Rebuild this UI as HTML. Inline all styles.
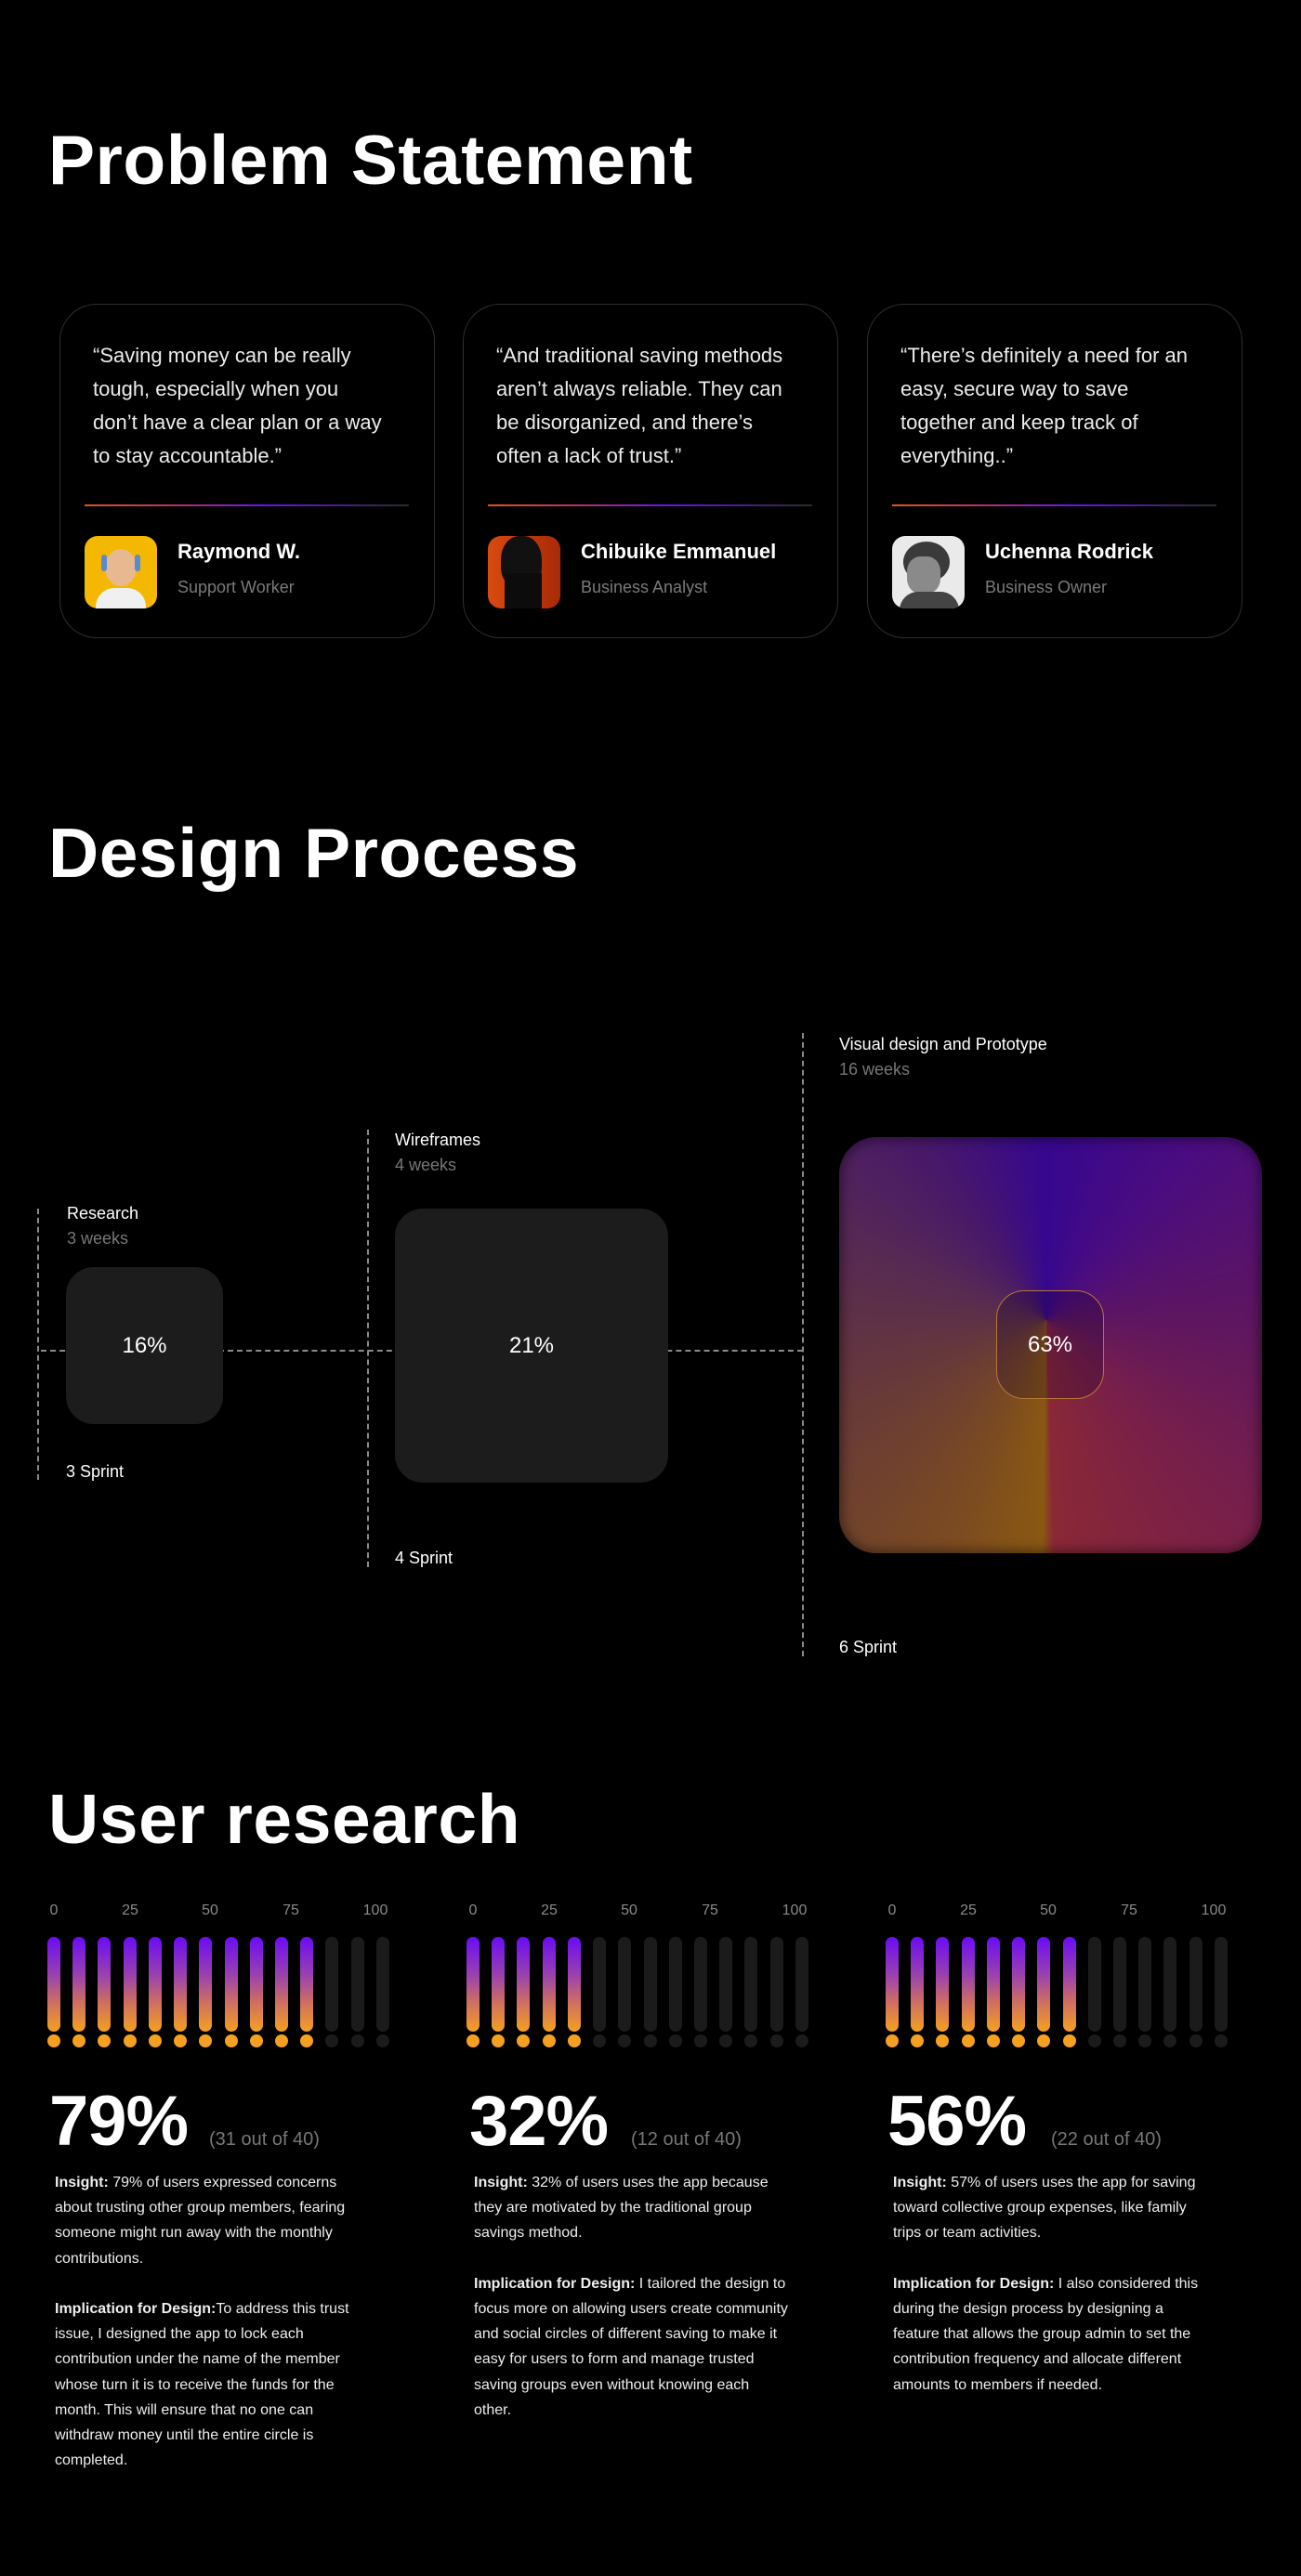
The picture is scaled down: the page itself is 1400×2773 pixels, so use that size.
<!DOCTYPE html>
<html><head><meta charset="utf-8">
<style>
*{margin:0;padding:0;box-sizing:border-box}
html,body{width:1400px;height:2773px;background:#000;overflow:hidden}
body{position:relative;font-family:"Liberation Sans",sans-serif;color:#fff}
.a{position:absolute;white-space:nowrap}
.h1{font-size:75px;line-height:75px;font-weight:bold;letter-spacing:0.6px;left:52px}
.card{position:absolute;top:327px;width:404px;height:360px;border:1.5px solid #2e2e2e;border-radius:40px;background:#000}
.q{position:absolute;left:35px;top:37px;font-size:22px;line-height:36px;color:#ececec;white-space:nowrap}
.div{position:absolute;left:26px;right:27px;top:215px;height:2px;background:linear-gradient(90deg,#e2541c 0%,#b03070 30%,#6a14f0 55%,#2a2a2a 100%)}
.av{position:absolute;left:26px;top:249px;width:78px;height:78px;border-radius:14px;overflow:hidden}
.nm{position:absolute;left:126px;top:255px;font-size:22px;line-height:22px;font-weight:bold;white-space:nowrap}
.rl{position:absolute;left:126px;top:295px;font-size:18px;line-height:18px;color:#7a7a7a;white-space:nowrap}
.lbl{font-size:18px;line-height:18px}
.g{color:#777}
.vd{position:absolute;width:0;border-left:2px dashed #8a8a8a}
.box{position:absolute;background:#1c1c1c;border-radius:30px;display:flex;align-items:center;justify-content:center;font-size:24px}
.ax{position:absolute;top:2049px;font-size:16px;line-height:16px;color:#8a8a8a;transform:translateX(-50%)}
.bar{position:absolute;top:2085px;width:14px;height:102px;border-radius:7px}
.on{background:linear-gradient(180deg,#6a0cf5 0%,#9a40b0 40%,#d07060 70%,#f5a020 100%)}
.off{background:#1b1b1b}
.dot{position:absolute;top:2190px;width:14px;height:14px;border-radius:50%}
.don{background:#f5a020}.doff{background:#1b1b1b}
.big{position:absolute;top:2246px;font-size:76px;line-height:76px;font-weight:bold;letter-spacing:-1px}
.sub{position:absolute;top:2293px;font-size:20px;line-height:20px;color:#777}
.txt{position:absolute;top:2336px;font-size:16px;line-height:27.2px;color:#eee;white-space:nowrap}
</style></head><body>

<div class="a h1" style="top:135px">Problem Statement</div>

<div class="card" style="left:64px">
 <div class="q">“Saving money can be really<br>tough, especially when you<br>don’t have a clear plan or a way<br>to stay accountable.”</div>
 <div class="div"></div>
 <div class="av" style="background:#f5b800">
  <div style="position:absolute;left:22px;top:14px;width:34px;height:40px;border-radius:50%;background:#e8b890"></div>
  <div style="position:absolute;left:18px;top:20px;width:6px;height:18px;border-radius:3px;background:#5a8ad0"></div>
  <div style="position:absolute;left:54px;top:20px;width:6px;height:18px;border-radius:3px;background:#5a8ad0"></div>
  <div style="position:absolute;left:12px;top:56px;width:54px;height:30px;border-radius:20px 20px 0 0;background:#f0f0f0"></div>
 </div>
 <div class="nm">Raymond W.</div>
 <div class="rl">Support Worker</div>
</div>

<div class="card" style="left:498px">
 <div class="q">“And traditional saving methods<br>aren’t always reliable. They can<br>be disorganized, and there’s<br>often a lack of trust.”</div>
 <div class="div"></div>
 <div class="av" style="background:linear-gradient(90deg,#d84a10,#a82a08)">
  <div style="position:absolute;left:14px;top:0;width:44px;height:56px;border-radius:45% 45% 40% 40%;background:#111"></div>
  <div style="position:absolute;left:18px;top:40px;width:40px;height:40px;background:#0c0c0c"></div>
 </div>
 <div class="nm">Chibuike Emmanuel</div>
 <div class="rl">Business Analyst</div>
</div>

<div class="card" style="left:933px">
 <div class="q">“There’s definitely a need for an<br>easy, secure way to save<br>together and keep track of<br>everything..”</div>
 <div class="div"></div>
 <div class="av" style="background:#eaeaea">
  <div style="position:absolute;left:12px;top:6px;width:50px;height:44px;border-radius:50%;background:#3a3a3a"></div>
  <div style="position:absolute;left:16px;top:22px;width:36px;height:40px;border-radius:40%;background:#8a8a8a"></div>
  <div style="position:absolute;left:8px;top:60px;width:64px;height:24px;border-radius:20px 20px 0 0;background:#444"></div>
 </div>
 <div class="nm">Uchenna Rodrick</div>
 <div class="rl">Business Owner</div>
</div>

<div class="a h1" style="top:881px">Design Process</div>

<div class="vd" style="left:40px;top:1301px;height:292px"></div>
<div class="vd" style="left:395px;top:1216px;height:471px"></div>
<div class="vd" style="left:863px;top:1112px;height:671px"></div>
<div style="position:absolute;left:44px;top:1453px;width:820px;height:0;border-top:2px dashed #8a8a8a"></div>

<div class="a lbl" style="left:72px;top:1297px">Research</div>
<div class="a lbl g" style="left:72px;top:1324px">3 weeks</div>
<div class="box" style="left:71px;top:1364px;width:169px;height:169px">16%</div>
<div class="a lbl" style="left:71px;top:1575px">3 Sprint</div>

<div class="a lbl" style="left:425px;top:1218px">Wireframes</div>
<div class="a lbl g" style="left:425px;top:1245px">4 weeks</div>
<div class="box" style="left:425px;top:1301px;width:294px;height:295px">21%</div>
<div class="a lbl" style="left:425px;top:1668px">4 Sprint</div>

<div class="a lbl" style="left:903px;top:1115px">Visual design and Prototype</div>
<div class="a lbl g" style="left:903px;top:1142px">16 weeks</div>
<div style="position:absolute;left:903px;top:1224px;width:455px;height:448px;border-radius:40px;overflow:hidden;background:conic-gradient(from 0deg at 49% 44%,#36078f 0deg,#4a0c80 40deg,#5e1660 90deg,#7a2048 140deg,#8a2836 178deg,#8a5812 181deg,#7a4a22 205deg,#683a38 245deg,#572a52 290deg,#48186a 325deg,#36078f 360deg);box-shadow:inset 0 0 12px 3px rgba(0,0,0,0.45)"></div>
<div style="position:absolute;left:1072px;top:1389px;width:116px;height:117px;border-radius:30px;border:1.5px solid #b57838;background:rgba(20,0,40,0.25);display:flex;align-items:center;justify-content:center;font-size:24px">63%</div>
<div class="a lbl" style="left:903px;top:1764px">6 Sprint</div>

<div class="a h1" style="top:1921px">User research</div>

<div class="ax" style="left:58px">0</div><div class="ax" style="left:140px">25</div><div class="ax" style="left:226px">50</div><div class="ax" style="left:313px">75</div><div class="ax" style="left:404px">100</div>
<div class="ax" style="left:509px">0</div><div class="ax" style="left:591px">25</div><div class="ax" style="left:677px">50</div><div class="ax" style="left:764px">75</div><div class="ax" style="left:855px">100</div>
<div class="ax" style="left:960px">0</div><div class="ax" style="left:1042px">25</div><div class="ax" style="left:1128px">50</div><div class="ax" style="left:1215px">75</div><div class="ax" style="left:1306px">100</div>

<div class="bar on" style="left:51px"></div><div class="bar on" style="left:78px"></div><div class="bar on" style="left:105px"></div><div class="bar on" style="left:133px"></div><div class="bar on" style="left:160px"></div><div class="bar on" style="left:187px"></div><div class="bar on" style="left:214px"></div><div class="bar on" style="left:242px"></div><div class="bar on" style="left:269px"></div><div class="bar on" style="left:296px"></div><div class="bar on" style="left:323px"></div><div class="bar off" style="left:350px"></div><div class="bar off" style="left:378px"></div><div class="bar off" style="left:405px"></div>
<div class="dot don" style="left:51px"></div><div class="dot don" style="left:78px"></div><div class="dot don" style="left:105px"></div><div class="dot don" style="left:133px"></div><div class="dot don" style="left:160px"></div><div class="dot don" style="left:187px"></div><div class="dot don" style="left:214px"></div><div class="dot don" style="left:242px"></div><div class="dot don" style="left:269px"></div><div class="dot don" style="left:296px"></div><div class="dot don" style="left:323px"></div><div class="dot doff" style="left:350px"></div><div class="dot doff" style="left:378px"></div><div class="dot doff" style="left:405px"></div>

<div class="bar on" style="left:502px"></div><div class="bar on" style="left:529px"></div><div class="bar on" style="left:556px"></div><div class="bar on" style="left:584px"></div><div class="bar on" style="left:611px"></div><div class="bar off" style="left:638px"></div><div class="bar off" style="left:665px"></div><div class="bar off" style="left:693px"></div><div class="bar off" style="left:720px"></div><div class="bar off" style="left:747px"></div><div class="bar off" style="left:774px"></div><div class="bar off" style="left:801px"></div><div class="bar off" style="left:829px"></div><div class="bar off" style="left:856px"></div>
<div class="dot don" style="left:502px"></div><div class="dot don" style="left:529px"></div><div class="dot don" style="left:556px"></div><div class="dot don" style="left:584px"></div><div class="dot don" style="left:611px"></div><div class="dot doff" style="left:638px"></div><div class="dot doff" style="left:665px"></div><div class="dot doff" style="left:693px"></div><div class="dot doff" style="left:720px"></div><div class="dot doff" style="left:747px"></div><div class="dot doff" style="left:774px"></div><div class="dot doff" style="left:801px"></div><div class="dot doff" style="left:829px"></div><div class="dot doff" style="left:856px"></div>

<div class="bar on" style="left:953px"></div><div class="bar on" style="left:980px"></div><div class="bar on" style="left:1007px"></div><div class="bar on" style="left:1035px"></div><div class="bar on" style="left:1062px"></div><div class="bar on" style="left:1089px"></div><div class="bar on" style="left:1116px"></div><div class="bar on" style="left:1144px"></div><div class="bar off" style="left:1171px"></div><div class="bar off" style="left:1198px"></div><div class="bar off" style="left:1225px"></div><div class="bar off" style="left:1252px"></div><div class="bar off" style="left:1280px"></div><div class="bar off" style="left:1307px"></div>
<div class="dot don" style="left:953px"></div><div class="dot don" style="left:980px"></div><div class="dot don" style="left:1007px"></div><div class="dot don" style="left:1035px"></div><div class="dot don" style="left:1062px"></div><div class="dot don" style="left:1089px"></div><div class="dot don" style="left:1116px"></div><div class="dot don" style="left:1144px"></div><div class="dot doff" style="left:1171px"></div><div class="dot doff" style="left:1198px"></div><div class="dot doff" style="left:1225px"></div><div class="dot doff" style="left:1252px"></div><div class="dot doff" style="left:1280px"></div><div class="dot doff" style="left:1307px"></div>

<div class="big" style="left:53px">79%</div><div class="sub" style="left:225px">(31 out of 40)</div>
<div class="big" style="left:505px">32%</div><div class="sub" style="left:679px">(12 out of 40)</div>
<div class="big" style="left:955px">56%</div><div class="sub" style="left:1131px">(22 out of 40)</div>

<div class="txt" style="left:59px"><b>Insight:</b> 79% of users expressed concerns<br>about trusting other group members, fearing<br>someone might run away with the monthly<br>contributions.<br><br><b>Implication for Design:</b>To address this trust<br>issue, I designed the app to lock each<br>contribution under the name of the member<br>whose turn it is to receive the funds for the<br>month. This will ensure that no one can<br>withdraw money until the entire circle is<br>completed.</div>

<div class="txt" style="left:510px"><b>Insight:</b> 32% of users uses the app because<br>they are motivated by the traditional group<br>savings method.<br><br><b>Implication for Design:</b> I tailored the design to<br>focus more on allowing users create community<br>and social circles of different saving to make it<br>easy for users to form and manage trusted<br>saving groups even without knowing each<br>other.</div>

<div class="txt" style="left:961px"><b>Insight:</b> 57% of users uses the app for saving<br>toward collective group expenses, like family<br>trips or team activities.<br><br><b>Implication for Design:</b> I also considered this<br>during the design process by designing a<br>feature that allows the group admin to set the<br>contribution frequency and allocate different<br>amounts to members if needed.</div>

</body></html>
